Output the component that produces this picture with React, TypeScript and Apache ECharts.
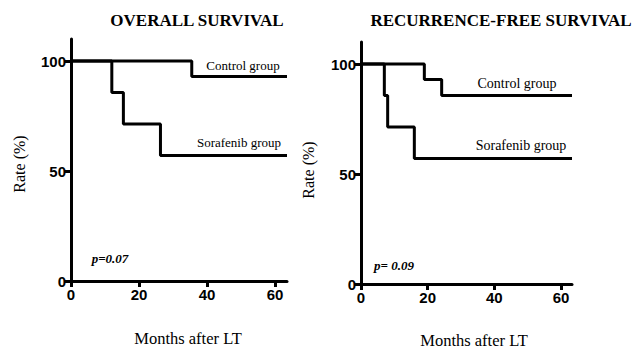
import React, { useEffect, useRef } from "react";
import * as echarts from "echarts";

// Overall survival (months, rate %)
const osControlMonths = [0, 35.5, 63.5];
const osControlRate = [100, 92.9, 92.9];
const osSorafenibMonths = [0, 12, 15.4, 26.3, 63.5];
const osSorafenibRate = [100, 85.7, 71.4, 57.1, 57.1];

// Recurrence-free survival
const rfsControlMonths = [0, 19, 24.2, 63.3];
const rfsControlRate = [100, 92.9, 85.7, 85.7];
const rfsSorafenibMonths = [0, 7, 8, 16, 63.3];
const rfsSorafenibRate = [100, 85.7, 71.4, 57.1, 57.1];

const xTicks = [0, 20, 40, 60];
const yTicks = [0, 50, 100];

const panelTitles = ["OVERALL SURVIVAL", "RECURRENCE-FREE SURVIVAL"];
const groupNames = ["Control group", "Sorafenib group"];
const pValues = ["p=0.07", "p= 0.09"];
const xName = "Months after LT";
const yName = "Rate (%)";

const pairs = (xs: number[], ys: number[]) => xs.map((x, i) => [x, ys[i]]);

const SERIF = "Liberation Serif";
const SANS = "Liberation Sans";

export default function App() {
  const ref = useRef<HTMLDivElement>(null);
  useEffect(() => {
    if (!ref.current) return;
    const chart = echarts.init(ref.current, null, { renderer: "svg" });
    const xAxisBase = (gridIndex: number, max: number) => ({
      type: "value",
      gridIndex,
      min: 0,
      max,
      axisLine: { show: true, lineStyle: { color: "#000", width: 3 } },
      axisTick: { show: true, length: 6, lineStyle: { color: "#000", width: 3 }, customValues: xTicks },
      axisLabel: {
        fontFamily: SANS,
        fontWeight: "bold",
        fontSize: 15,
        color: "#000",
        margin: 6,
        customValues: xTicks,
      },
      splitLine: { show: false },
    });
    const yAxisBase = (gridIndex: number) => ({
      type: "value",
      gridIndex,
      min: 0,
      max: 110,
      axisLine: { show: true, lineStyle: { color: "#000", width: 3 } },
      axisTick: { show: true, length: 6, lineStyle: { color: "#000", width: 3 }, customValues: yTicks },
      axisLabel: {
        fontFamily: SANS,
        fontWeight: "bold",
        fontSize: 15,
        color: "#000",
        margin: 5,
        customValues: yTicks,
      },
      splitLine: { show: false },
    });
    const lineSeries = (idx: number, data: number[][]) => ({
      type: "line",
      xAxisIndex: idx,
      yAxisIndex: idx,
      step: "end",
      data,
      symbol: "none",
      lineStyle: { color: "#000", width: 3 },
      clip: false,
    });
    const txt = (x: number, y: number, text: string, font: any, rotation = 0) => ({
      type: "text",
      x,
      y,
      rotation,
      style: {
        text,
        fill: "#000",
        textAlign: "center",
        textVerticalAlign: "middle",
        ...font,
      },
    });
    const serif = (size: number) => ({ fontFamily: SERIF, fontSize: size, fontWeight: "normal" });
    chart.setOption({
      animation: false,
      grid: [
        { left: 71, top: 39, width: 216, height: 242 },
        { left: 361, top: 42, width: 211, height: 242 },
      ],
      xAxis: [xAxisBase(0, 63.5), xAxisBase(1, 63.3)],
      yAxis: [yAxisBase(0), yAxisBase(1)],
      series: [
        lineSeries(0, pairs(osControlMonths, osControlRate)),
        lineSeries(0, pairs(osSorafenibMonths, osSorafenibRate)),
        lineSeries(1, pairs(rfsControlMonths, rfsControlRate)),
        lineSeries(1, pairs(rfsSorafenibMonths, rfsSorafenibRate)),
      ],
      graphic: [
        txt(197, 20, panelTitles[0], { fontFamily: SERIF, fontWeight: "bold", fontSize: 17 }),
        txt(501, 20, panelTitles[1], { fontFamily: SERIF, fontWeight: "bold", fontSize: 17 }),
        txt(243, 65, groupNames[0], serif(13)),
        txt(239, 142, groupNames[1], serif(13)),
        txt(517, 83, groupNames[0], serif(14)),
        txt(521, 145, groupNames[1], serif(14)),
        txt(110, 258, pValues[0], { fontFamily: SERIF, fontSize: 13, fontWeight: "bold", fontStyle: "italic" }),
        txt(394, 265, pValues[1], { fontFamily: SERIF, fontSize: 13, fontWeight: "bold", fontStyle: "italic" }),
        txt(188, 338, xName, serif(16.5)),
        txt(474, 340, xName, serif(16.5)),
        txt(19, 164, yName, serif(16), Math.PI / 2),
        txt(308, 170, yName, serif(16), Math.PI / 2),
      ],
    });
    return () => chart.dispose();
  }, []);
  return (
    <div
      ref={ref}
      style={{ position: "fixed", left: 0, top: 0, width: 634, height: 349, background: "#fff" }}
    />
  );
}
